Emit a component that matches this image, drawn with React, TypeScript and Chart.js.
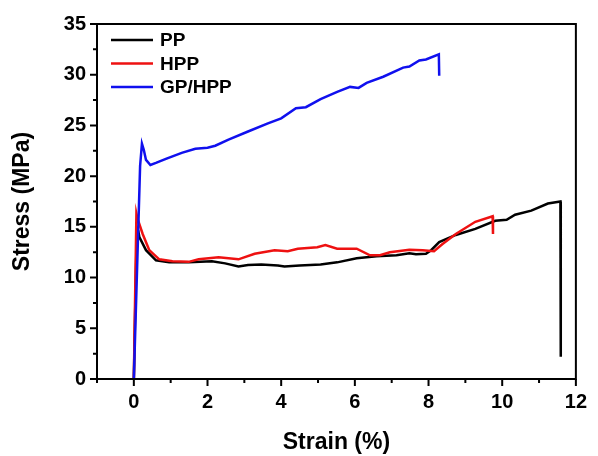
import React, { useEffect, useRef } from "react";
import { Chart, registerables } from "chart.js";

Chart.register(...registerables);

// ---- data ----
const seriesNames = ["PP", "HPP", "GP/HPP"];

const ppStrain = [0, 0.08, 0.12, 0.15, 0.33, 0.6, 0.96, 1.49, 2.12, 2.48, 2.84, 3.1, 3.46, 3.91, 4.09, 4.5, 5.07, 5.52, 6.05, 6.59, 7.13, 7.48, 7.66, 7.93, 8.07, 8.29, 8.74, 9.27, 9.81, 10.12, 10.35, 10.79, 11.24, 11.58, 11.59];
const ppStress = [0, 14.9, 14.6, 14.0, 12.7, 11.7, 11.5, 11.5, 11.6, 11.4, 11.1, 11.25, 11.3, 11.2, 11.1, 11.2, 11.3, 11.5, 11.9, 12.1, 12.2, 12.4, 12.3, 12.35, 12.7, 13.5, 14.2, 14.8, 15.6, 15.7, 16.2, 16.6, 17.3, 17.5, 2.2];

const hppStrain = [0, 0.07, 0.1, 0.24, 0.42, 0.69, 1.05, 1.49, 1.76, 2.3, 2.84, 3.28, 3.82, 4.18, 4.45, 4.98, 5.2, 5.52, 6.05, 6.41, 6.68, 6.95, 7.48, 7.84, 8.15, 8.38, 8.74, 9.27, 9.74, 9.75];
const hppStress = [0, 16.3, 15.8, 14.3, 12.7, 11.8, 11.6, 11.55, 11.8, 12.0, 11.8, 12.35, 12.7, 12.6, 12.85, 13.0, 13.2, 12.85, 12.85, 12.2, 12.2, 12.5, 12.75, 12.7, 12.6, 13.3, 14.3, 15.5, 16.05, 14.3];

const gpStrain = [0, 0.17, 0.22, 0.27, 0.33, 0.45, 0.6, 0.87, 1.3, 1.67, 2.0, 2.21, 2.57, 3.1, 3.64, 4.0, 4.4, 4.67, 5.07, 5.52, 5.87, 6.1, 6.32, 6.77, 7.31, 7.48, 7.75, 7.93, 8.28, 8.29];
const gpStress = [0, 21.0, 23.2, 22.6, 21.6, 21.1, 21.3, 21.7, 22.3, 22.7, 22.8, 23.0, 23.6, 24.4, 25.2, 25.7, 26.7, 26.8, 27.6, 28.3, 28.8, 28.7, 29.2, 29.8, 30.7, 30.8, 31.4, 31.5, 32.0, 29.9];

const xMajorTicks = [0, 2, 4, 6, 8, 10, 12];
const xMinorTicks = [-1, 1, 3, 5, 7, 9, 11];
const yMajorTicks = [0, 5, 10, 15, 20, 25, 30, 35];
const yMinorTicks = [2.5, 7.5, 12.5, 17.5, 22.5, 27.5, 32.5];

const xLabel = "Strain (%)";
const yLabel = "Stress (MPa)";

// ---- styles ----
const colors = ["#000000", "#ee1111", "#1010ee"];
const FONT = "'Liberation Sans', Arial, sans-serif";

const toPoints = (xs: number[], ys: number[]) => xs.map((x, i) => ({ x, y: ys[i] }));

const framePlugin = {
  id: "frameTicksLegend",
  afterDraw(chart: any) {
    const { ctx, chartArea: a, scales } = chart;
    const x = scales.x;
    const y = scales.y;
    ctx.save();
    ctx.strokeStyle = "#000";
    ctx.lineWidth = 2;
    ctx.strokeRect(a.left, a.top, a.right - a.left, a.bottom - a.top);
    ctx.beginPath();
    xMajorTicks.forEach((v) => {
      const p = x.getPixelForValue(v);
      ctx.moveTo(p, a.bottom);
      ctx.lineTo(p, a.bottom + 7);
    });
    xMinorTicks.forEach((v) => {
      const p = x.getPixelForValue(v);
      ctx.moveTo(p, a.bottom);
      ctx.lineTo(p, a.bottom + 4);
    });
    yMajorTicks.forEach((v) => {
      const p = y.getPixelForValue(v);
      ctx.moveTo(a.left, p);
      ctx.lineTo(a.left - 7, p);
    });
    yMinorTicks.forEach((v) => {
      const p = y.getPixelForValue(v);
      ctx.moveTo(a.left, p);
      ctx.lineTo(a.left - 4, p);
    });
    ctx.stroke();

    // legend
    ctx.font = `bold 19px ${FONT}`;
    ctx.textBaseline = "middle";
    ctx.textAlign = "left";
    chart.data.datasets.forEach((ds: any, i: number) => {
      const ry = a.top + 16 + i * 23.5;
      ctx.strokeStyle = ds.borderColor;
      ctx.lineWidth = 2.5;
      ctx.beginPath();
      ctx.moveTo(a.left + 14, ry);
      ctx.lineTo(a.left + 56, ry);
      ctx.stroke();
      ctx.fillStyle = "#000";
      ctx.fillText(ds.label, a.left + 63, ry + 1);
    });
    ctx.restore();
  },
};

export default function App() {
  const ref = useRef<HTMLCanvasElement>(null);
  useEffect(() => {
    if (!ref.current) return;
    const xs = [ppStrain, hppStrain, gpStrain];
    const ys = [ppStress, hppStress, gpStress];
    const chart = new Chart(ref.current, {
      type: "line",
      data: {
        datasets: seriesNames.map((name, i) => ({
          label: name,
          data: toPoints(xs[i], ys[i]),
          borderColor: colors[i],
          backgroundColor: colors[i],
          borderWidth: 2.5,
          pointRadius: 0,
          tension: 0,
          fill: false,
          order: 3 - i,
        })),
      },
      options: {
        animation: false,
        responsive: false,
        maintainAspectRatio: false,
        layout: { padding: { top: 24, right: 16, left: 0, bottom: 0 } },
        plugins: { legend: { display: false }, tooltip: { enabled: false } },
        scales: {
          x: {
            type: "linear",
            min: -1,
            max: 12,
            grid: { display: false, drawTicks: false },
            border: { display: false },
            afterBuildTicks: (s: any) => {
              s.ticks = xMajorTicks.map((v) => ({ value: v }));
            },
            afterFit: (s: any) => {
              s.height = 77;
            },
            ticks: {
              padding: 11,
              color: "#000",
              maxRotation: 0,
              autoSkip: false,
              font: { family: FONT, size: 20, weight: "bold" },
            },
            title: {
              display: true,
              text: xLabel,
              color: "#000",
              padding: { top: 0, bottom: 0 },
              font: { family: FONT, size: 23, weight: "bold" },
            },
          },
          y: {
            type: "linear",
            min: 0,
            max: 35,
            grid: { display: false, drawTicks: false },
            border: { display: false },
            afterBuildTicks: (s: any) => {
              s.ticks = yMajorTicks.map((v) => ({ value: v }));
            },
            afterFit: (s: any) => {
              s.width = 97;
            },
            ticks: {
              padding: 11,
              color: "#000",
              autoSkip: false,
              font: { family: FONT, size: 20, weight: "bold" },
            },
            title: {
              display: true,
              text: yLabel,
              color: "#000",
              padding: { top: 9, bottom: 0 },
              font: { family: FONT, size: 23, weight: "bold" },
            },
          },
        },
      },
      plugins: [framePlugin],
    });
    return () => chart.destroy();
  }, []);
  return (
    <div style={{ position: "fixed", left: 0, top: 0, width: 598, height: 456, background: "#fff" }}>
      <canvas ref={ref} width={598} height={456} style={{ width: 598, height: 456 }} />
    </div>
  );
}
